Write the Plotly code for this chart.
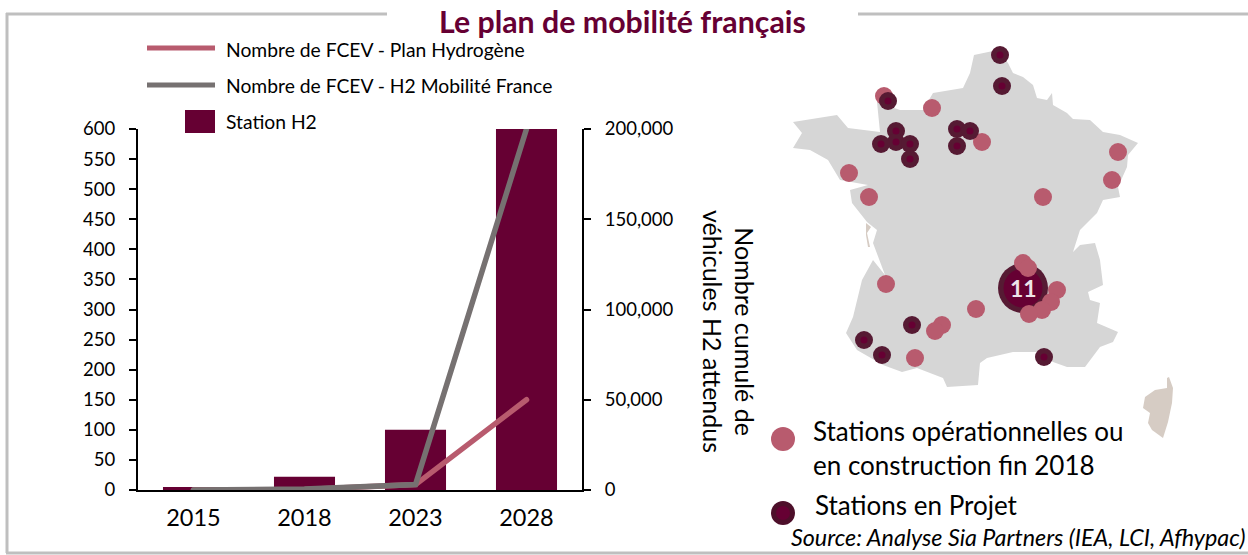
import plotly.graph_objects as go

W, H = 1248, 555
FONT = "Lato"
WINE = "#660033"
ROSE = "#B85B6E"
GREY = "#767171"
LAND = "#D6D6D6"
CORSICA = "#D6CCC4"
FRAME = "#BFBFBF"

# Chart data
years = ["2015", "2018", "2023", "2028"]
stations_h2 = [5, 22, 100, 600]
fcev_plan = [0, 300, 3000, 50000]
fcev_h2mf = [0, 500, 3000, 200000]
left_ticks = list(range(0, 601, 50))
right_ticks = [0, 50000, 100000, 150000, 200000]

# Map data
france_x = [974, 993, 1000, 1008, 1013, 1023, 1033, 1037, 1047, 1052, 1053, 1067, 1073, 1090, 1103, 1120, 1138, 1128, 1127, 1118, 1120, 1103, 1097, 1080, 1073, 1080, 1095, 1100, 1103, 1088, 1090, 1100, 1097, 1118, 1113, 1100, 1085, 1067, 1053, 1037, 1013, 987, 980, 978, 947, 943, 917, 902, 883, 857, 846, 853, 862, 873, 885, 875, 873, 877, 867, 852, 850, 868, 840, 828, 810, 793, 802, 793, 818, 837, 848, 880, 877, 900, 923, 933, 963, 970, 974]
france_y = [55, 51, 53, 63, 73, 77, 85, 98, 100, 93, 105, 113, 119, 120, 132, 135, 143, 155, 167, 187, 197, 200, 213, 230, 252, 245, 243, 260, 285, 292, 300, 303, 323, 332, 342, 347, 367, 367, 362, 352, 352, 358, 363, 385, 387, 378, 368, 372, 365, 350, 333, 317, 280, 260, 275, 250, 243, 230, 222, 203, 190, 185, 180, 160, 150, 148, 133, 122, 118, 115, 128, 132, 102, 110, 110, 93, 88, 73, 55]
corsica_x = [1169, 1173, 1172, 1168, 1163, 1152, 1148, 1150, 1143, 1145, 1155, 1167, 1167, 1169]
corsica_y = [377, 388, 403, 422, 438, 430, 423, 413, 408, 397, 390, 388, 378, 377]
oleron_x = [866, 871, 867, 870, 868, 866, 866]
oleron_y = [223, 227, 233, 247, 247, 235, 223]
operational_x = [884, 932, 982, 1118, 1112, 1043, 869, 849, 1023, 1028, 1057, 1051, 1042, 1029, 976, 942, 935, 886, 915]
operational_y = [96, 108, 142, 152, 180, 197, 197, 173, 263, 268, 290, 302, 310, 314, 309, 325, 331, 284, 358]
project_x = [1000, 1002, 888, 896, 896, 881, 910, 910, 957, 970, 957, 912, 864, 882, 1044]
project_y = [55, 86, 101, 131, 142, 144, 144, 159, 129, 131, 146, 325, 340, 355, 357]
hub_x = [1023]
hub_y = [288]
hub_label = ["11"]

# Legend text
legend_labels = ["Nombre de FCEV - Plan Hydrogène", "Nombre de FCEV - H2 Mobilité France", "Station H2"]
map_labels = ["Stations opérationnelles ou<br>en construction fin 2018", "Stations en Projet"]

DARK_RING = "#561A33"

fig = go.Figure()

# Full-page overlay for the map and the dots
def page(**kw):
    return dict(xaxis="x3", yaxis="y3", hoverinfo="skip", showlegend=False, **kw)

fig.add_trace(go.Scatter(x=france_x, y=france_y, mode="lines", fill="toself", fillcolor=LAND,
                         line=dict(width=0, color=LAND), **page()))
fig.add_trace(go.Scatter(x=corsica_x, y=corsica_y, mode="lines", fill="toself", fillcolor=CORSICA,
                         line=dict(width=0, color=CORSICA), **page()))
fig.add_trace(go.Scatter(x=oleron_x, y=oleron_y, mode="lines", fill="toself", fillcolor=CORSICA,
                         line=dict(width=0, color=CORSICA), **page()))
fig.add_trace(go.Scatter(x=hub_x, y=hub_y, mode="markers", marker=dict(size=50, color=DARK_RING), **page()))
fig.add_trace(go.Scatter(x=hub_x, y=hub_y, mode="markers", marker=dict(size=39, color=WINE), **page()))
fig.add_trace(go.Scatter(x=operational_x, y=operational_y, mode="markers", marker=dict(size=18, color=ROSE), **page()))
fig.add_trace(go.Scatter(x=project_x, y=project_y, mode="markers", marker=dict(size=18, color=DARK_RING), **page()))
fig.add_trace(go.Scatter(x=project_x, y=project_y, mode="markers", marker=dict(size=7, color=WINE), **page()))

# Map legend dots
fig.add_trace(go.Scatter(x=[783], y=[439], mode="markers", marker=dict(size=24, color=ROSE), **page()))
fig.add_trace(go.Scatter(x=[783], y=[513], mode="markers", marker=dict(size=24, color="#4D0F2A"), **page()))
fig.add_trace(go.Scatter(x=[783], y=[513], mode="markers", marker=dict(size=14, color=WINE), **page()))

# Bars and lines
fig.add_trace(go.Bar(x=years, y=stations_h2, marker=dict(color=WINE, line=dict(width=0)), width=0.55,
                     name=legend_labels[2], showlegend=False, xaxis="x", yaxis="y"))
fig.add_trace(go.Scatter(x=years, y=fcev_plan, mode="lines", line=dict(color=ROSE, width=5.5),
                         name=legend_labels[0], showlegend=False, xaxis="x", yaxis="y2"))
fig.add_trace(go.Scatter(x=years, y=fcev_h2mf, mode="lines", line=dict(color=GREY, width=5.5),
                         name=legend_labels[1], showlegend=False, xaxis="x", yaxis="y2"))

axis_style = dict(showgrid=False, zeroline=False, showline=True, linecolor="black", linewidth=2,
                  ticks="outside", ticklen=7, tickwidth=1.5, tickcolor="black", automargin=False,
                  ticklabelstandoff=10,
                  tickfont=dict(family=FONT, size=18.5, color="black"))

def frame_line(x0, y0, x1, y1):
    return dict(type="line", xref="x3", yref="y3", x0=x0, y0=y0, x1=x1, y1=y1,
                line=dict(color=FRAME, width=3), layer="below")

def swatch(x0, x1, y, color, width):
    return dict(type="line", xref="x3", yref="y3", x0=x0, y0=y, x1=x1, y1=y, line=dict(color=color, width=width))

shapes = [
    frame_line(6, 14, 387, 14), frame_line(858, 14, 1248, 14),
    frame_line(7, 13, 7, 553), frame_line(6, 553, 1248, 553),
    swatch(147, 215, 48, ROSE, 5), swatch(147, 215, 85, GREY, 5),
    dict(type="rect", xref="x3", yref="y3", x0=185, x1=215, y0=110, y1=133, fillcolor=WINE, line=dict(width=0)),
]

def note(x, y, text, size, color="black", xanchor="left", angle=0, **extra):
    font = dict(family=FONT, size=size, color=color)
    font.update(extra.pop("fontx", {}))
    return dict(x=x, y=y, xref="x3", yref="y3", text=text, showarrow=False, xanchor=xanchor, yanchor="middle",
                textangle=angle, font=font, **extra)

annotations = [
    note(622, 21, "Le plan de mobilité français", 30.3, WINE, "center", fontx=dict(weight="bold")),
    note(224, 49, legend_labels[0], 19.3),
    note(224, 85, legend_labels[1], 19.3),
    note(224, 121, legend_labels[2], 19.3),
    note(729, 331, "Nombre cumulé de<br>véhicules H2 attendus", 25, "black", "center", angle=90),
    note(811, 448, map_labels[0], 26, align="left"),
    note(813, 505, map_labels[1], 26),
    note(1248, 537, "Source: Analyse Sia Partners (IEA, LCI, Afhypac)", 23.3, "black", "right", fontx=dict(style="italic")),
    note(hub_x[0], hub_y[0], hub_label[0], 23, "#EDE3E8", "center", fontx=dict(weight="bold")),
]

fig.update_layout(
    width=W, height=H, margin=dict(l=0, r=0, t=0, b=0), autosize=False,
    paper_bgcolor="white", plot_bgcolor="rgba(0,0,0,0)", showlegend=False, bargap=0.45,
    xaxis=dict(domain=[138 / W, 582 / W], type="category", showgrid=False, zeroline=False, showline=True,
               linecolor="black", linewidth=2, ticks="", anchor="y", range=[-0.5, 3.5], automargin=False,
               ticklabelstandoff=6,
               tickfont=dict(family=FONT, size=23.5, color="black")),
    yaxis=dict(domain=[1 - 490 / H, 1 - 129 / H], range=[0, 600], tickvals=left_ticks, anchor="x", **axis_style),
    yaxis2=dict(domain=[1 - 490 / H, 1 - 129 / H], range=[0, 200000], tickvals=right_ticks, tickformat=",",
                overlaying="y", side="right", anchor="x", **axis_style),
    xaxis3=dict(domain=[0, 1], range=[0, W], visible=False, anchor="y3", fixedrange=True, automargin=False),
    yaxis3=dict(domain=[0, 1], range=[H, 0], visible=False, anchor="x3", fixedrange=True, automargin=False),
    shapes=shapes, annotations=annotations,
)

fig.write_html(
    "out.html",
    config={"displayModeBar": False},
    post_script="document.body.style.margin='0';"
                "document.querySelectorAll('.js-line').forEach(function(p){p.style.strokeLinecap='round';});",
)
